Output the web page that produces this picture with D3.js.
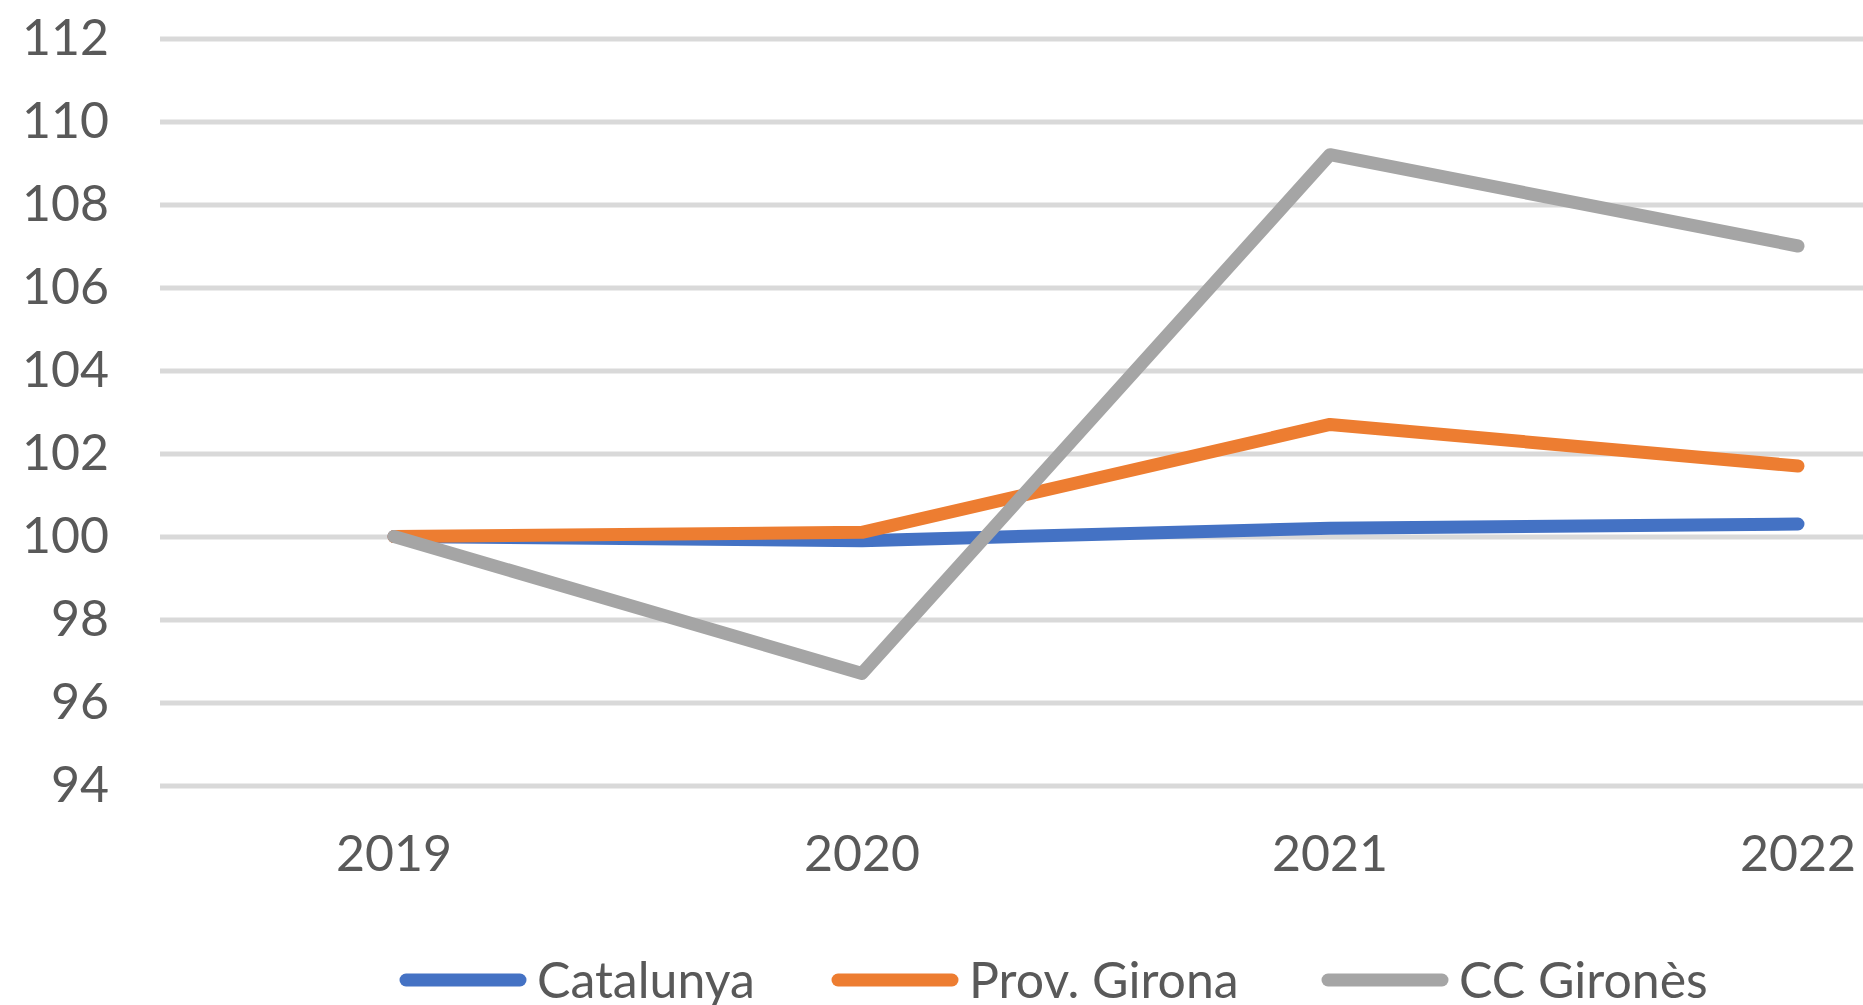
<!DOCTYPE html>
<html>
<head>
<meta charset="utf-8">
<script src="https://cdn.jsdelivr.net/npm/d3@7"></script>
<style>
  html, body { margin: 0; padding: 0; background: #fff; overflow: hidden; }
  svg { display: block; }
  text { font-family: Lato, "Open Sans", sans-serif; fill: #595959; }
</style>
</head>
<body>
<svg id="chart" width="1863" height="1005"></svg>
<script>
const years = ["2019", "2020", "2021", "2022"];
const catalunya = [100, 99.9, 100.2, 100.3];
const provGirona = [100, 100.1, 102.7, 101.7];
const ccGirones = [100, 96.7, 109.2, 107.0];
const seriesNames = ["Catalunya", "Prov. Girona", "CC Gironès"];
const seriesColors = ["#4472C4", "#ED7D31", "#A5A5A5"];
const yTicks = [94, 96, 98, 100, 102, 104, 106, 108, 110, 112];

const series = [catalunya, provGirona, ccGirones].map((vals, i) => ({
  name: seriesNames[i], color: seriesColors[i],
  values: vals.map((v, j) => ({ year: years[j], value: v }))
}));

const svg = d3.select("#chart");
const plotLeft = 160, plotRight = 2032, plotTop = 38.5, plotBottom = 785.5;

const x = d3.scaleBand().domain(years).range([plotLeft, plotRight]);
const y = d3.scaleLinear().domain([94, 112]).range([plotBottom, plotTop]);

// gridlines + y labels
const yAxis = svg.append("g")
  .attr("transform", `translate(${plotLeft},0)`)
  .call(d3.axisLeft(y).tickValues(yTicks).tickSize(-(plotRight - plotLeft)).tickPadding(51).tickFormat(d3.format("d")));
yAxis.select(".domain").remove();
yAxis.selectAll(".tick line").attr("stroke", "#D9D9D9").attr("stroke-width", 5);
yAxis.selectAll(".tick text").style("font-size", "50px").attr("fill", "#595959")
  .style("font-family", "Lato, 'Open Sans', sans-serif");

// x labels
const xAxis = svg.append("g")
  .attr("transform", `translate(0,${plotBottom})`)
  .call(d3.axisBottom(x).tickSize(0).tickPadding(50));
xAxis.select(".domain").remove();
xAxis.selectAll(".tick text").style("font-size", "50px").attr("fill", "#595959")
  .style("font-family", "Lato, 'Open Sans', sans-serif");

// lines
const line = d3.line()
  .x(d => x(d.year) + x.bandwidth() / 2)
  .y(d => y(d.value));

svg.append("g").selectAll("path")
  .data(series)
  .join("path")
  .attr("d", d => line(d.values))
  .attr("fill", "none")
  .attr("stroke", d => d.color)
  .attr("stroke-width", 13)
  .attr("stroke-linecap", "round")
  .attr("stroke-linejoin", "round");

// legend
const legendY = 980;
const legendX = [400, 832, 1322];
const lg = svg.append("g").selectAll("g")
  .data(series)
  .join("g")
  .attr("transform", (d, i) => `translate(${legendX[i]},${legendY})`);
lg.append("line")
  .attr("x1", 6).attr("x2", 120).attr("y1", 0).attr("y2", 0)
  .attr("stroke", d => d.color).attr("stroke-width", 13).attr("stroke-linecap", "round");
lg.append("text")
  .attr("x", 137).attr("y", 0).attr("dy", "0.36em")
  .style("font-size", "50px")
  .text(d => d.name);
</script>
</body>
</html>
